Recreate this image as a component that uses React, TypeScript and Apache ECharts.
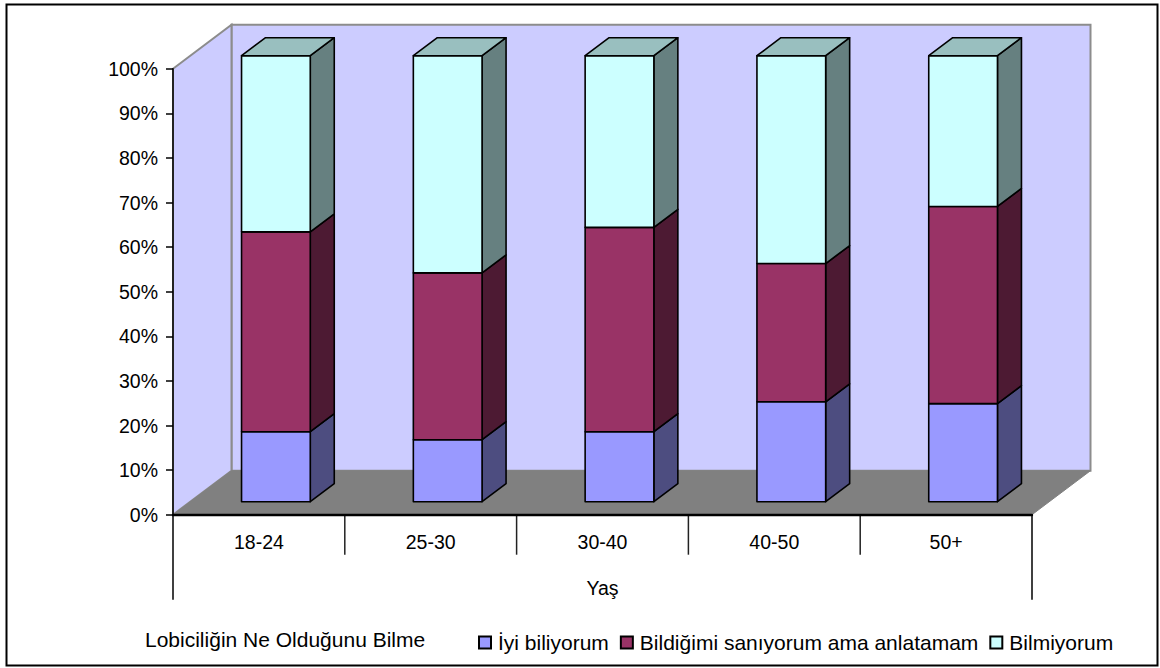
import React, { useEffect, useRef } from "react";
import * as echarts from "echarts";

const categories = ["18-24", "25-30", "30-40", "40-50", "50+"];
const seriesNames = ["İyi biliyorum", "Bildiğimi sanıyorum ama anlatamam", "Bilmiyorum"];
const iyiBiliyorum = [15.7, 13.9, 15.7, 22.4, 22.0];
const bildigimi = [44.8, 37.4, 45.8, 31.0, 44.2];
const bilmiyorum = [39.5, 48.7, 38.5, 46.6, 33.8];
const yTicks = [0, 10, 20, 30, 40, 50, 60, 70, 80, 90, 100];

const FONT = "Liberation Sans";
const WALL_DX = 58.5;
const WALL_DY = -44;
const BAR_OFF_DX = 17;
const BAR_OFF_DY = -13;
const BAR_DX = 24;
const BAR_DY = -18;
const BAR_FRACTION = 0.4;

const palette = [
  { front: "#9999FF", side: "#4D4D80", top: "#7373BF" },
  { front: "#993366", side: "#4D1A33", top: "#73264D" },
  { front: "#CCFFFF", side: "#668080", top: "#99BFBF" },
];

const stacks = [iyiBiliyorum, bildigimi, bilmiyorum];

function wallRender(params: any) {
  const c = params.coordSys;
  const l = c.x, r = c.x + c.width, t = c.y, b = c.y + c.height;
  const wallStyle = { fill: "#CCCCFF", stroke: "#8C8C8C", lineWidth: 2 };
  const bw = c.width / categories.length;
  const children: any[] = [
    { type: "polygon", shape: { points: [[l + WALL_DX, t + WALL_DY], [r + WALL_DX, t + WALL_DY], [r + WALL_DX, b + WALL_DY], [l + WALL_DX, b + WALL_DY]] }, style: wallStyle },
    { type: "polygon", shape: { points: [[l, t], [l + WALL_DX, t + WALL_DY], [l + WALL_DX, b + WALL_DY], [l, b]] }, style: wallStyle },
    { type: "polygon", shape: { points: [[l, b], [l + WALL_DX, b + WALL_DY], [r + WALL_DX, b + WALL_DY], [r, b]] }, style: { fill: "#808080", stroke: "#808080", lineWidth: 1 } },
    { type: "line", shape: { x1: l, y1: b, x2: l, y2: b + 85 }, style: { stroke: "#000", lineWidth: 1.5 } },
    { type: "line", shape: { x1: r, y1: b, x2: r, y2: b + 85 }, style: { stroke: "#000", lineWidth: 1.5 } },
  ];
  for (let i = 1; i < categories.length; i++) {
    children.push({ type: "line", shape: { x1: l + bw * i, y1: b, x2: l + bw * i, y2: b + 40 }, style: { stroke: "#222", lineWidth: 1.5 } });
  }
  return { type: "group", children };
}

function barRender(stackIndex: number) {
  return (params: any, api: any) => {
    const i = api.value(0);
    let base = 0;
    for (let s = 0; s < stackIndex; s++) base += stacks[s][i];
    const top = base + stacks[stackIndex][i];
    const p0 = api.coord([i, base]);
    const p1 = api.coord([i, top]);
    const w = api.size([1, 0])[0] * BAR_FRACTION;
    const x0 = p0[0] - w / 2 + BAR_OFF_DX;
    const x1 = x0 + w;
    const yB = p0[1] + BAR_OFF_DY;
    const yT = p1[1] + BAR_OFF_DY;
    const col = palette[stackIndex];
    const line = { stroke: "#000", lineWidth: 1.6, lineJoin: "round" };
    const children: any[] = [
      { type: "polygon", shape: { points: [[x1, yB], [x1 + BAR_DX, yB + BAR_DY], [x1 + BAR_DX, yT + BAR_DY], [x1, yT]] }, style: { fill: col.side, ...line } },
      { type: "polygon", shape: { points: [[x0, yB], [x1, yB], [x1, yT], [x0, yT]] }, style: { fill: col.front, ...line } },
    ];
    if (stackIndex === stacks.length - 1) {
      children.push({ type: "polygon", shape: { points: [[x0, yT], [x0 + BAR_DX, yT + BAR_DY], [x1 + BAR_DX, yT + BAR_DY], [x1, yT]] }, style: { fill: col.top, ...line } });
    }
    return { type: "group", children };
  };
}

export default function App() {
  const ref = useRef<HTMLDivElement>(null);
  useEffect(() => {
    const chart = echarts.init(ref.current!, null, { renderer: "svg" });
    chart.setOption({
      animation: false,
      backgroundColor: "#fff",
      textStyle: { fontFamily: FONT, color: "#000" },
      title: {
        text: "Lobiciliğin Ne Olduğunu Bilme",
        left: 145,
        top: 629,
        padding: 0,
        textStyle: { fontFamily: FONT, fontSize: 21, fontWeight: "normal", color: "#000" },
      },
      legend: {
        left: 478,
        top: 632,
        padding: 0,
        itemGap: 11,
        itemWidth: 12,
        itemHeight: 12,
        icon: "rect",
        data: seriesNames,
        textStyle: { fontFamily: FONT, fontSize: 21, color: "#000", padding: [0, 0, 0, 2] },
      },
      grid: { left: 173, right: 128, top: 68.7, bottom: 153.3, containLabel: false },
      xAxis: {
        type: "category",
        data: categories,
        z: 10,
        name: "Yaş",
        nameLocation: "middle",
        nameGap: 63,
        nameTextStyle: { fontFamily: FONT, fontSize: 19.5, color: "#000" },
        axisLine: { lineStyle: { color: "#000", width: 2.4 } },
        axisTick: { show: false },
        axisLabel: { fontFamily: FONT, fontSize: 19.5, color: "#000", margin: 17 },
      },
      yAxis: {
        type: "value",
        min: yTicks[0],
        max: yTicks[yTicks.length - 1],
        interval: 10,
        z: 10,
        axisLine: { show: true, lineStyle: { color: "#000", width: 1.5 } },
        axisTick: { show: true, length: 7, lineStyle: { color: "#000", width: 1.5 } },
        splitLine: { show: false },
        axisLabel: { fontFamily: FONT, fontSize: 19.5, color: "#000", margin: 15, formatter: "{value}%" },
      },
      graphic: [
        { type: "rect", shape: { x: 6.5, y: 4.5, width: 1151, height: 661 }, style: { fill: "none", stroke: "#000", lineWidth: 2 }, silent: true },
      ],
      series: [
        { type: "custom", name: "walls", z: 1, silent: true, renderItem: wallRender, data: [[0, 0]], clip: false },
        ...seriesNames.map((name, s) => ({
          type: "custom",
          name,
          z: 2 + s,
          clip: false,
          itemStyle: { color: palette[s].front, borderColor: "#000", borderWidth: 2 },
          renderItem: barRender(s),
          data: stacks[s].map((v, i) => [i, v]),
          encode: { x: 0, y: 1 },
        })),
      ],
    });
    return () => chart.dispose();
  }, []);
  return <div ref={ref} style={{ position: "absolute", left: 0, top: 0, width: 1160, height: 668 }} />;
}
